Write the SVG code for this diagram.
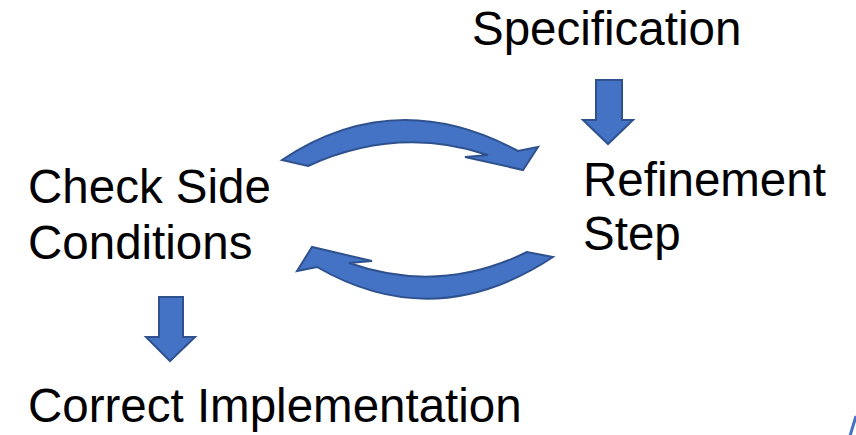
<svg xmlns="http://www.w3.org/2000/svg" width="856" height="435" viewBox="0 0 856 435">
<style>
.t{font-family:"Liberation Sans",Arial,sans-serif;font-size:47.5px;fill:#000}
.a{fill:#4472C4;stroke:#2F528F;stroke-width:2;stroke-linejoin:miter}
</style>
<rect width="856" height="435" fill="#fff"/>
<g id="spec"><text class="t" x="472" y="45">Specification</text></g>
<g id="refine"><text class="t" x="583" y="196">Refinement</text><text class="t" x="583" y="250">Step</text></g>
<g id="check"><text class="t" x="28" y="203">Check Side</text><text class="t" x="28" y="259">Conditions</text></g>
<g id="correct"><text class="t" x="28" y="422">Correct Implementation</text></g>
<g id="connectors">
<path class="a" d="M282,160 Q395,85 518,151 L538,147 L523,170 L465,157 L488,155 Q398,125 308,166 Z"/>
<path class="a" d="M553,257 Q435,335 317,267 L297,271 L312,247 L372,261 L349,263 Q440,295 527,252 Z"/>
<path class="a" d="M596,80 L622,80 L622,120 L633,120 L608,144 L583,120 L596,120 Z"/>
<path class="a" d="M159,297 L183,297 L183,337 L195,337 L170,361 L146,337 L159,337 Z"/>
<path d="M850,436 L856,416" stroke="#4472C4" stroke-width="3" fill="none"/>
</g>
</svg>
